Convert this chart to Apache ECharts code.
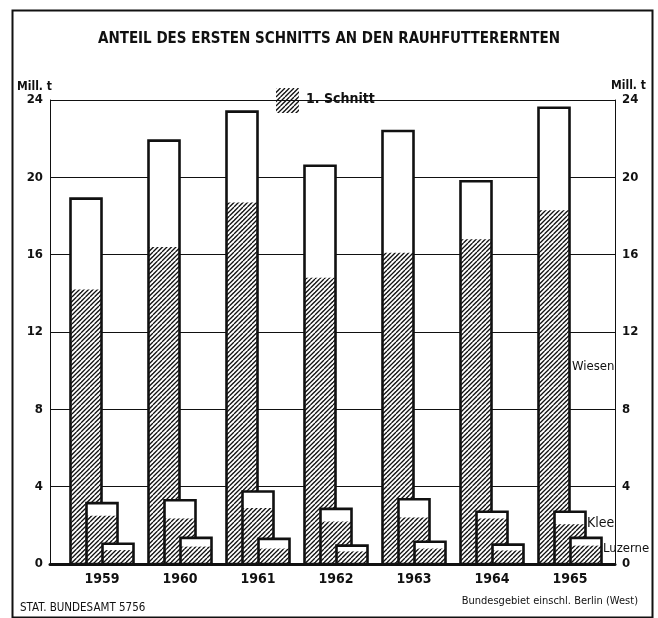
<!DOCTYPE html>
<html>
<head>
<meta charset="utf-8">
<script src="https://cdn.jsdelivr.net/npm/echarts@6/dist/echarts.min.js"></script>
<style>
  html, body { margin: 0; padding: 0; background: #fff; }
  #chart { width: 658px; height: 618px; }
</style>
</head>
<body>
<div id="chart"></div>
<script>
// Jahre
var years = ['1959', '1960', '1961', '1962', '1963', '1964', '1965'];
// Mill. t insgesamt / davon 1. Schnitt
var wiesenTotal = [18.9, 21.9, 23.4, 20.6, 22.4, 19.8, 23.6];
var wiesenFirst = [14.2, 16.4, 18.7, 14.8, 16.1, 16.8, 18.3];
var kleeTotal = [3.15, 3.3, 3.75, 2.85, 3.35, 2.7, 2.7];
var kleeFirst = [2.5, 2.35, 2.9, 2.2, 2.4, 2.35, 2.05];
var luzerneTotal = [1.05, 1.35, 1.3, 0.95, 1.15, 1.0, 1.35];
var luzerneFirst = [0.72, 0.9, 0.8, 0.65, 0.8, 0.7, 0.95];
var yTicks = [0, 4, 8, 12, 16, 20, 24];

var FONT = '"DejaVu Sans Condensed", "Liberation Sans Narrow", sans-serif';
var INK = '#111';

// schraffur "////"
function makeHatch() {
  var cv = document.createElement('canvas');
  cv.width = 9; cv.height = 9;
  var ctx = cv.getContext('2d');
  ctx.fillStyle = '#fff';
  ctx.fillRect(0, 0, 9, 9);
  ctx.strokeStyle = INK;
  ctx.lineWidth = 1.3;
  [0, 4.5, 9, 13.5, 18].forEach(function (c) {
    ctx.beginPath();
    ctx.moveTo(c, 0);
    ctx.lineTo(c - 9, 9);
    ctx.stroke();
  });
  return cv;
}
var hatch = { image: makeHatch(), repeat: 'repeat' };

function rows(total, first) {
  return years.map(function (y, i) { return [i, total[i], first[i]]; });
}

function barRenderer(offset) {
  return function (params, api) {
    var i = api.value(0);
    var top = api.coord([i, api.value(1)]);
    var mid = api.coord([i, api.value(2)]);
    var base = api.coord([i, 0]);
    var w = 31;
    var x = top[0] + offset - w / 2;
    return {
      type: 'group',
      children: [
        { type: 'rect', shape: { x: x, y: top[1], width: w, height: base[1] - top[1] },
          style: { fill: '#fff', stroke: null } },
        { type: 'rect', shape: { x: x, y: mid[1], width: w, height: base[1] - mid[1] },
          style: { fill: hatch, stroke: null } },
        { type: 'rect', shape: { x: x, y: top[1], width: w, height: base[1] - top[1] },
          style: { fill: null, stroke: INK, lineWidth: 2.6 } }
      ]
    };
  };
}

var chart = echarts.init(document.getElementById('chart'));
chart.setOption({
  backgroundColor: '#fff',
  animation: false,
  title: {
    text: 'ANTEIL DES ERSTEN SCHNITTS AN DEN RAUHFUTTERERNTEN',
    left: 'center', top: 27,
    textStyle: { fontFamily: FONT, fontSize: 15, fontWeight: 'bold', color: INK }
  },
  grid: [
    { left: 50, right: 43, top: 100, bottom: 54 },
    { left: 63, right: 49, top: 100, bottom: 54 }
  ],
  xAxis: [
    { gridIndex: 0, type: 'value', min: 0, max: 1,
      axisLine: { show: true, lineStyle: { color: INK, width: 3 } },
      axisTick: { show: false }, axisLabel: { show: false }, splitLine: { show: false } },
    { gridIndex: 1, type: 'category', data: years,
      axisLine: { show: false }, axisTick: { show: false },
      axisLabel: { margin: 8, fontFamily: FONT, fontSize: 14, fontWeight: 'bold', color: INK } }
  ],
  yAxis: [
    { gridIndex: 0, type: 'value', min: 0, max: 24, interval: 4, position: 'left',
      axisLine: { show: true, lineStyle: { color: INK, width: 1 } },
      axisTick: { show: false },
      axisLabel: { margin: 7, fontFamily: FONT, fontSize: 13, fontWeight: 'bold', color: INK,
        formatter: function (v) { return yTicks.indexOf(v) >= 0 ? String(v) : ''; } },
      splitLine: { show: true, lineStyle: { color: INK, width: 1 } } },
    { gridIndex: 0, type: 'value', min: 0, max: 24, interval: 4, position: 'right',
      axisLine: { show: true, lineStyle: { color: INK, width: 1 } },
      axisTick: { show: false },
      axisLabel: { margin: 7, fontFamily: FONT, fontSize: 13, fontWeight: 'bold', color: INK },
      splitLine: { show: false } },
    { gridIndex: 1, type: 'value', min: 0, max: 24, show: false }
  ],
  series: [
    { name: 'Wiesen', type: 'custom', xAxisIndex: 1, yAxisIndex: 2,
      renderItem: barRenderer(-16), data: rows(wiesenTotal, wiesenFirst) },
    { name: 'Klee', type: 'custom', xAxisIndex: 1, yAxisIndex: 2,
      renderItem: barRenderer(0), data: rows(kleeTotal, kleeFirst) },
    { name: 'Luzerne', type: 'custom', xAxisIndex: 1, yAxisIndex: 2,
      renderItem: barRenderer(16), data: rows(luzerneTotal, luzerneFirst) }
  ],
  graphic: [
    { type: 'rect', left: 10, top: 8, shape: { width: 640, height: 607 },
      style: { fill: null, stroke: INK, lineWidth: 2 }, silent: true },
    // legende
    { type: 'rect', left: 276, top: 88, shape: { width: 23, height: 25 },
      style: { fill: hatch } },
    { type: 'text', left: 306, top: 92,
      style: { text: '1. Schnitt', fontFamily: FONT, fontSize: 14, fontWeight: 'bold', fill: INK } },
    // einheiten
    { type: 'text', left: 17, top: 81,
      style: { text: 'Mill. t', fontFamily: FONT, fontSize: 12, fontWeight: 'bold', fill: INK } },
    { type: 'text', left: 611, top: 80,
      style: { text: 'Mill. t', fontFamily: FONT, fontSize: 12, fontWeight: 'bold', fill: INK } },
    // reihenbeschriftung
    { type: 'text', left: 572, top: 360,
      style: { text: 'Wiesen', fontFamily: FONT, fontSize: 13, fill: INK } },
    { type: 'text', left: 587, top: 516,
      style: { text: 'Klee', fontFamily: FONT, fontSize: 14, fill: INK } },
    { type: 'text', left: 603, top: 542,
      style: { text: 'Luzerne', fontFamily: FONT, fontSize: 13, fill: INK } },
    // quelle
    { type: 'text', left: 20, top: 602,
      style: { text: 'STAT. BUNDESAMT 5756', fontFamily: FONT, fontSize: 11.5, fill: INK } },
    { type: 'text', right: 20, top: 596,
      style: { text: 'Bundesgebiet einschl. Berlin (West)', fontFamily: FONT, fontSize: 11, fill: INK } }
  ]
});
</script>
</body>
</html>
